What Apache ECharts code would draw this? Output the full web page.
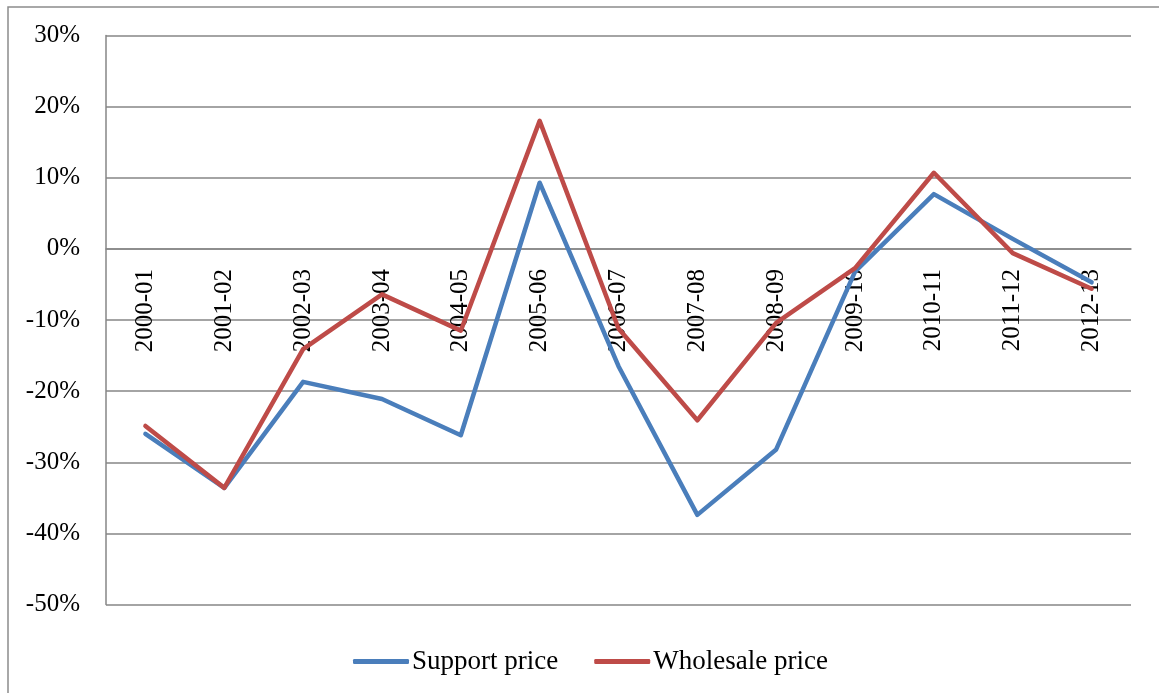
<!DOCTYPE html>
<html>
<head>
<meta charset="utf-8">
<script src="https://cdn.jsdelivr.net/npm/echarts@6/dist/echarts.min.js"></script>
<style>
  html, body { margin: 0; padding: 0; background: #fff; }
  #chart { width: 1159px; height: 693px; }
</style>
</head>
<body>
<div id="chart"></div>
<script>
// Annual change in support and wholesale prices, 2000-01 to 2012-13
const categories = ['2000-01', '2001-02', '2002-03', '2003-04', '2004-05', '2005-06', '2006-07',
  '2007-08', '2008-09', '2009-10', '2010-11', '2011-12', '2012-13'];
const supportPrice = [-0.260, -0.336, -0.187, -0.211, -0.262, 0.093, -0.165,
  -0.374, -0.282, -0.032, 0.077, 0.014, -0.047];
const wholesalePrice = [-0.249, -0.336, -0.141, -0.064, -0.115, 0.180, -0.112,
  -0.241, -0.104, -0.027, 0.107, -0.006, -0.056];
const seriesNames = ['Support price', 'Wholesale price'];
const yMin = -0.5;
const yMax = 0.3;

const serif = '"Liberation Serif", "Times New Roman", serif';
const gridGray = '#868686';

const H = 693;
const gridTop = 35.5;
const gridBottom = 88.5;
// Move the category axis up from the plot floor to the 0% line
const plotHeight = H - gridTop - gridBottom;
const zeroOffset = -plotHeight * (0 - yMin) / (yMax - yMin);

const chart = echarts.init(document.getElementById('chart'));
chart.setOption({
  animation: false,
  backgroundColor: '#ffffff',
  graphic: [{
    type: 'rect',
    shape: { x: 8, y: 7, width: 1200, height: 800 },
    style: { fill: 'none', stroke: '#8c8c8c', lineWidth: 1.5 },
    silent: true
  }],
  grid: {
    left: 106, right: 28, top: gridTop, bottom: gridBottom,
    containLabel: false,
    outerBoundsMode: 'none'
  },
  legend: {
    data: seriesNames,
    left: 348,
    top: 643,
    itemWidth: 56,
    itemHeight: 5,
    itemGap: 36,
    icon: 'roundRect',
    textStyle: { fontFamily: serif, fontSize: 27, color: '#000', padding: [0, 0, 0, -2] }
  },
  xAxis: {
    type: 'category',
    data: categories,
    boundaryGap: true,
    position: 'bottom',
    offset: zeroOffset,
    axisLine: { show: true, onZero: false, lineStyle: { color: gridGray, width: 1.5 } },
    axisTick: { show: false },
    axisLabel: {
      rotate: 90,
      margin: 20,
      interval: 0,
      fontFamily: serif,
      fontSize: 25,
      color: '#000'
    }
  },
  yAxis: {
    type: 'value',
    min: yMin,
    max: yMax,
    interval: 0.1,
    axisLine: { show: true, lineStyle: { color: gridGray, width: 1.5 } },
    axisTick: { show: false },
    splitLine: { show: true, lineStyle: { color: gridGray, width: 1.5 } },
    axisLabel: {
      margin: 26,
      fontFamily: serif,
      fontSize: 25,
      color: '#000',
      formatter: v => Math.round(v * 100) + '%'
    }
  },
  series: [
    {
      name: seriesNames[0],
      type: 'line',
      data: supportPrice,
      symbol: 'none',
      color: '#4A7EBB',
      lineStyle: { width: 4.5, color: '#4A7EBB', cap: 'round', join: 'round' },
      z: 2
    },
    {
      name: seriesNames[1],
      type: 'line',
      data: wholesalePrice,
      symbol: 'none',
      color: '#BE4B48',
      lineStyle: { width: 4.5, color: '#BE4B48', cap: 'round', join: 'round' },
      z: 3
    }
  ]
});
</script>
</body>
</html>
